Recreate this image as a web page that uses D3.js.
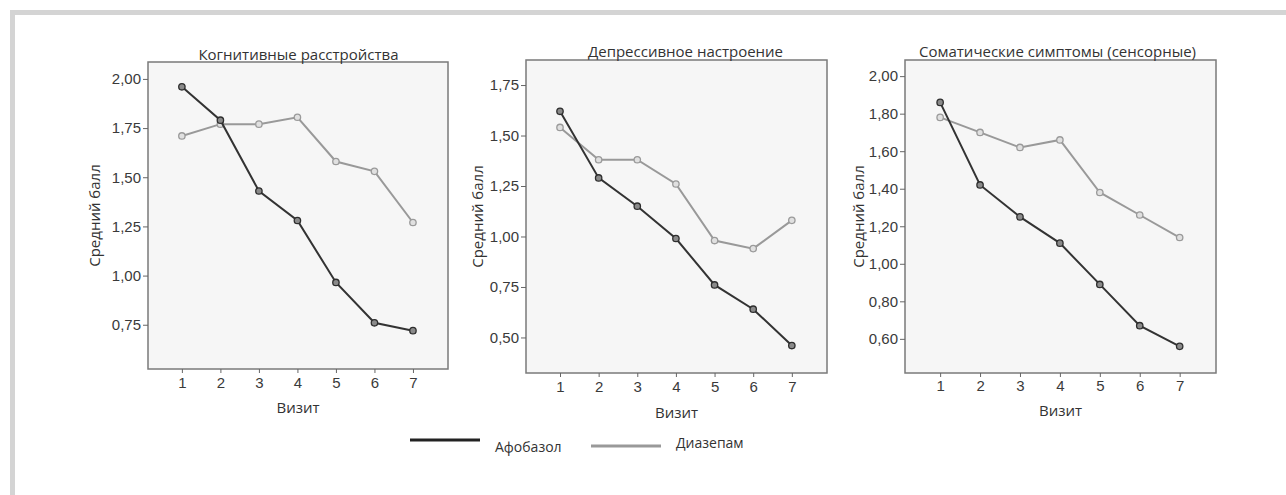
<!DOCTYPE html>
<html>
<head>
<meta charset="utf-8">
<script src="https://cdn.jsdelivr.net/npm/d3@7"></script>
<style>
  html, body { margin: 0; padding: 0; background: #fff; }
  svg { display: block; font-family: "Open Sans", sans-serif; }
  .tick text { fill: #3a3a3a; font-size: 15px; }
  .tick line { stroke: #666; }
  .domain { display: none; }
  .frame { fill: #f6f6f6; stroke: #7a7a7a; stroke-width: 1.5; }
  .ttl, .xlab, .ylab { fill: #333; font-size: 15px; }
  .leg { fill: #333; font-size: 14px; }
</style>
</head>
<body>
<svg id="chart" width="1286" height="495"></svg>
<script>
// Визиты
const visits = [1, 2, 3, 4, 5, 6, 7];
const seriesNames = ['Афобазол', 'Диазепам'];
const panelTitles = ['Когнитивные расстройства', 'Депрессивное настроение', 'Соматические симптомы (сенсорные)'];

// Когнитивные расстройства
const cognitiveAfobazol = [1.96, 1.79, 1.43, 1.28, 0.965, 0.76, 0.72];
const cognitiveDiazepam = [1.71, 1.77, 1.77, 1.805, 1.58, 1.53, 1.27];
const cognitiveTicks = [0.75, 1.00, 1.25, 1.50, 1.75, 2.00];

// Депрессивное настроение
const depressAfobazol = [1.62, 1.29, 1.15, 0.99, 0.76, 0.64, 0.46];
const depressDiazepam = [1.54, 1.38, 1.38, 1.26, 0.98, 0.94, 1.08];
const depressTicks = [0.50, 0.75, 1.00, 1.25, 1.50, 1.75];

// Соматические симптомы (сенсорные)
const somaticAfobazol = [1.86, 1.42, 1.25, 1.11, 0.89, 0.67, 0.56];
const somaticDiazepam = [1.78, 1.70, 1.62, 1.66, 1.38, 1.26, 1.14];
const somaticTicks = [0.60, 0.80, 1.00, 1.20, 1.40, 1.60, 1.80, 2.00];

const ru = d3.formatLocale({ decimal: ',', thousands: ' ', grouping: [3], currency: ['', ''] });
const fmt = ru.format('.2f');

const svg = d3.select('#chart');

// серая рамка страницы
svg.append('rect').attr('x', 10).attr('y', 10).attr('width', 1276).attr('height', 5).attr('fill', '#d4d4d4');
svg.append('rect').attr('x', 10).attr('y', 10).attr('width', 5).attr('height', 485).attr('fill', '#d4d4d4');

const panels = [
  { title: panelTitles[0], a: cognitiveAfobazol, d: cognitiveDiazepam, ticks: cognitiveTicks, yDom: [0.525, 2.086],
    box: [148, 62, 448, 369], titleX: 298.5, titleY: 59.5, yLabX: 100, xLabY: 413, tickLabY: 388 },
  { title: panelTitles[1], a: depressAfobazol, d: depressDiazepam, ticks: depressTicks, yDom: [0.324, 1.874],
    box: [526, 60, 827, 373], titleX: 685.5, titleY: 57, yLabX: 483, xLabY: 418, tickLabY: 392 },
  { title: panelTitles[2], a: somaticAfobazol, d: somaticDiazepam, ticks: somaticTicks, yDom: [0.418, 2.086],
    box: [905, 60, 1216, 373], titleX: 1057.5, titleY: 57, yLabX: 864, xLabY: 416, tickLabY: 391 }
];

const styles = [
  { line: '#333', width: 2, mark: '#2e2e2e', fill: '#8a8a8a' },
  { line: '#999', width: 2, mark: '#9a9a9a', fill: '#e0e0e0' }
];

panels.forEach(p => {
  const [x0, y0, x1, y1] = p.box;
  const x = d3.scaleLinear().domain([0.12, 7.91]).range([x0, x1]);
  const y = d3.scaleLinear().domain(p.yDom).range([y1, y0]);
  const g = svg.append('g');

  g.append('rect').attr('class', 'frame')
    .attr('x', x0).attr('y', y0).attr('width', x1 - x0).attr('height', y1 - y0);

  g.append('g').attr('transform', `translate(${x0},0)`)
    .call(d3.axisLeft(y).tickValues(p.ticks).tickFormat(fmt).tickSize(5).tickPadding(2));

  const xa = g.append('g').attr('transform', `translate(0,${y1})`)
    .call(d3.axisBottom(x).tickValues(visits).tickFormat(d3.format('d')).tickSize(4).tickPadding(4));
  xa.selectAll('.tick text').attr('dy', null).attr('y', p.tickLabY - y1);

  g.append('text').attr('class', 'ttl').attr('x', p.titleX).attr('y', p.titleY)
    .attr('text-anchor', 'middle').text(p.title);
  g.append('text').attr('class', 'xlab').attr('x', (x0 + x1) / 2).attr('y', p.xLabY)
    .attr('text-anchor', 'middle').text('Визит');
  g.append('text').attr('class', 'ylab')
    .attr('transform', `translate(${p.yLabX},${(y0 + y1) / 2}) rotate(-90)`)
    .attr('text-anchor', 'middle').text('Средний балл');

  const line = d3.line().x((v, i) => x(visits[i])).y(v => y(v));
  // Диазепам сначала, Афобазол поверх
  [p.d, p.a].forEach((vals, k) => {
    const s = styles[1 - k];
    g.append('path').datum(vals).attr('d', line)
      .attr('fill', 'none').attr('stroke', s.line).attr('stroke-width', s.width);
    g.selectAll(null).data(vals).join('circle')
      .attr('cx', (v, i) => x(visits[i])).attr('cy', v => y(v)).attr('r', 3.2)
      .attr('fill', s.fill).attr('stroke', s.mark).attr('stroke-width', 1.3);
  });
});

// Легенда
const leg = svg.append('g');
leg.append('line').attr('x1', 410).attr('x2', 480).attr('y1', 440).attr('y2', 440)
  .attr('stroke', '#222').attr('stroke-width', 3);
leg.append('text').attr('class', 'leg').attr('x', 495).attr('y', 451.5).text(seriesNames[0]);
leg.append('line').attr('x1', 591).attr('x2', 661).attr('y1', 446).attr('y2', 446)
  .attr('stroke', '#999').attr('stroke-width', 3);
leg.append('text').attr('class', 'leg').attr('x', 676).attr('y', 447.5).text(seriesNames[1]);
</script>
</body>
</html>
